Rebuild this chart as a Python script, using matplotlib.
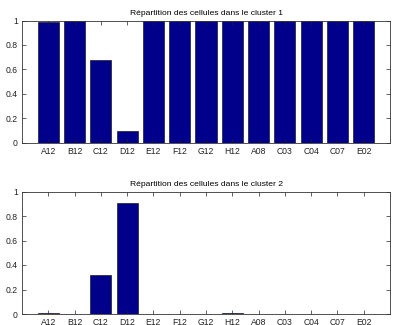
import matplotlib
matplotlib.use("Agg")
import matplotlib.pyplot as plt
import numpy as np

plt.rcParams['font.family'] = ['Liberation Sans', 'DejaVu Sans']

wells = ['A12', 'B12', 'C12', 'D12', 'E12', 'F12', 'G12', 'H12',
         'A08', 'C03', 'C04', 'C07', 'E02']
cluster1 = [0.99, 0.997, 0.68, 0.095, 1.0, 0.997, 1.0, 0.995,
            1.0, 1.0, 1.0, 1.0, 1.0]
cluster2 = [0.01, 0.003, 0.32, 0.905, 0.0, 0.003, 0.0, 0.005,
            0.0, 0.0, 0.0, 0.0, 0.0]
titles = ['Répartition des cellules dans le cluster 1',
          'Répartition des cellules dans le cluster 2']

fig = plt.figure(figsize=(3.93, 3.25), dpi=100)
W, H = 393.0, 325.0
# axes boxes in pixels: left, top, right, bottom
boxes = [(22, 20.5, 390, 143), (22, 191.5, 390, 314)]

x = np.arange(1, len(wells) + 1)
for (l, t, r, b), vals, title in zip(boxes, [cluster1, cluster2], titles):
    ax = fig.add_axes([l / W, 1 - b / H, (r - l) / W, (b - t) / H])
    ax.bar(x, vals, width=0.8, color='#00008A', edgecolor='#000000', linewidth=0.4)
    ax.set_xlim(0, 14)
    ax.set_ylim(0, 1)
    ax.set_xticks(x)
    ax.set_xticklabels(wells)
    ax.set_yticks([0, 0.2, 0.4, 0.6, 0.8, 1])
    ax.set_yticklabels(['0', '0.2', '0.4', '0.6', '0.8', '1'])
    ax.tick_params(direction='in', length=3, width=0.5, labelsize=6.2,
                   top=True, right=True, pad=3, colors='#222222')
    for s in ax.spines.values():
        s.set_linewidth(0.6)
        s.set_color('#333333')
    ax.set_title(title, fontsize=6.1, pad=4)

fig.savefig('out.png', dpi=100)
